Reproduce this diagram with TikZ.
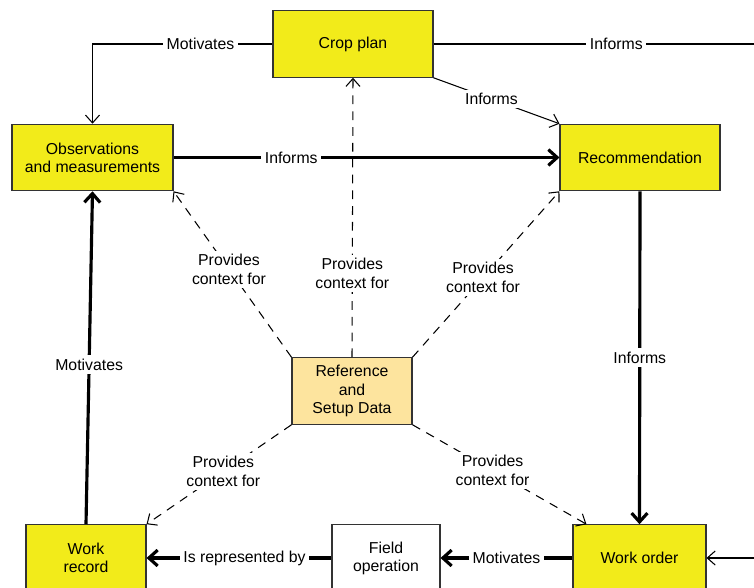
\documentclass[tikz,border=0pt]{standalone}
\usepackage{fontspec}
\setmainfont{Liberation Sans}
\usetikzlibrary{arrows.meta}

\definecolor{boxyellow}{RGB}{242,235,26}
\definecolor{refyellow}{RGB}{253,228,158}

\tikzset{
  box/.style={draw=black!80,line width=0.6pt,fill=boxyellow,align=center,
    minimum height=1.33cm,inner sep=1pt,font=\fontsize{9}{10.3}\selectfont},
  lbl/.style={fill=white,inner sep=2pt,align=center,
    font=\fontsize{9}{10.6}\selectfont},
  flowline/.style={line width=0.6pt},
  flowarrow/.style={line width=0.6pt,-{Straight Barb[length=4.5pt,width=8pt]}},
  boldarrow/.style={line width=1.8pt,-{Straight Barb[length=5pt,width=9pt]}},
  ctxarrow/.style={line width=0.6pt,dash pattern=on 5pt off 4pt,
    -{Straight Barb[length=4.5pt,width=8pt]}}
}

\begin{document}
\begin{tikzpicture}
           [x=0.02cm,y=-0.02cm]
           \useasboundingbox (0,0) rectangle (754,588);
           \clip (0,0) rectangle (754,588);

           % boxes
           \node[box,minimum width=3.2cm]  (crop) at (353,44)  {Crop plan};
           \node[box,minimum width=3.22cm] (obs)  at (92.5,157.5) {Observations\\and measurements};
           \node[box,minimum width=3.2cm]  (rec)  at (640,157.5) {Recommendation};
           \node[box,minimum width=2.4cm,fill=refyellow] (ref) at (352,391) {Reference\\and\\Setup Data};
           \node[box,minimum width=2.4cm]  (wr)   at (86,558)  {Work\\record};
           \node[box,minimum width=2.16cm,fill=white] (fo) at (386,558) {Field\\operation};
           \node[box,minimum width=2.66cm] (wo)   at (639.5,558) {Work order};

           \coordinate (cropout) at (760,44);
           \coordinate (woin) at (760,558);
           \coordinate (wotop) at ([xshift=0.28cm]wo.north west);

           % crop plan links
           \draw[flowarrow] (crop.west) -- node[lbl,pos=0.4] {Motivates} (crop.west -| obs) -- (obs.north);
           \draw[flowline] (crop.east) -- node[lbl,pos=0.56] {Informs} (cropout);
           \draw[flowarrow] (crop.south east) -- node[lbl,pos=0.46] {Informs} (rec.north west);

           % main cycle
           \draw[boldarrow] (obs.east) -- node[lbl,pos=0.305] {Informs} (rec.west);
           \draw[boldarrow] (rec.south) -- node[lbl] {Informs} (wo.north);
           \draw[boldarrow] (wo.west) -- node[lbl] {Motivates} (fo.east);
           \draw[boldarrow] (fo.west) -- node[lbl,pos=0.47] {Is represented by} (wr.east);
           \draw[boldarrow] (wr.north) -- node[lbl,pos=0.48] {Motivates} (obs.south);
           \draw[flowarrow] (woin) -- (wo.east);

           % reference data
           \draw[ctxarrow] (ref.north west) -- node[lbl,pos=0.53] {Provides\\context for} (obs.south east);
           \draw[ctxarrow] (ref.north) -- node[lbl,pos=0.3] {Provides\\context for} (crop.south);
           \draw[ctxarrow] (ref.north east) -- node[lbl,pos=0.48] {Provides\\context for} (rec.south west);
           \draw[ctxarrow] (ref.south west) -- node[lbl,pos=0.47] {Provides\\context for} (wr.north east);
           \draw[ctxarrow] (ref.south east) -- node[lbl,pos=0.46] {Provides\\context for} (wotop);
         \end{tikzpicture}
\end{document}
